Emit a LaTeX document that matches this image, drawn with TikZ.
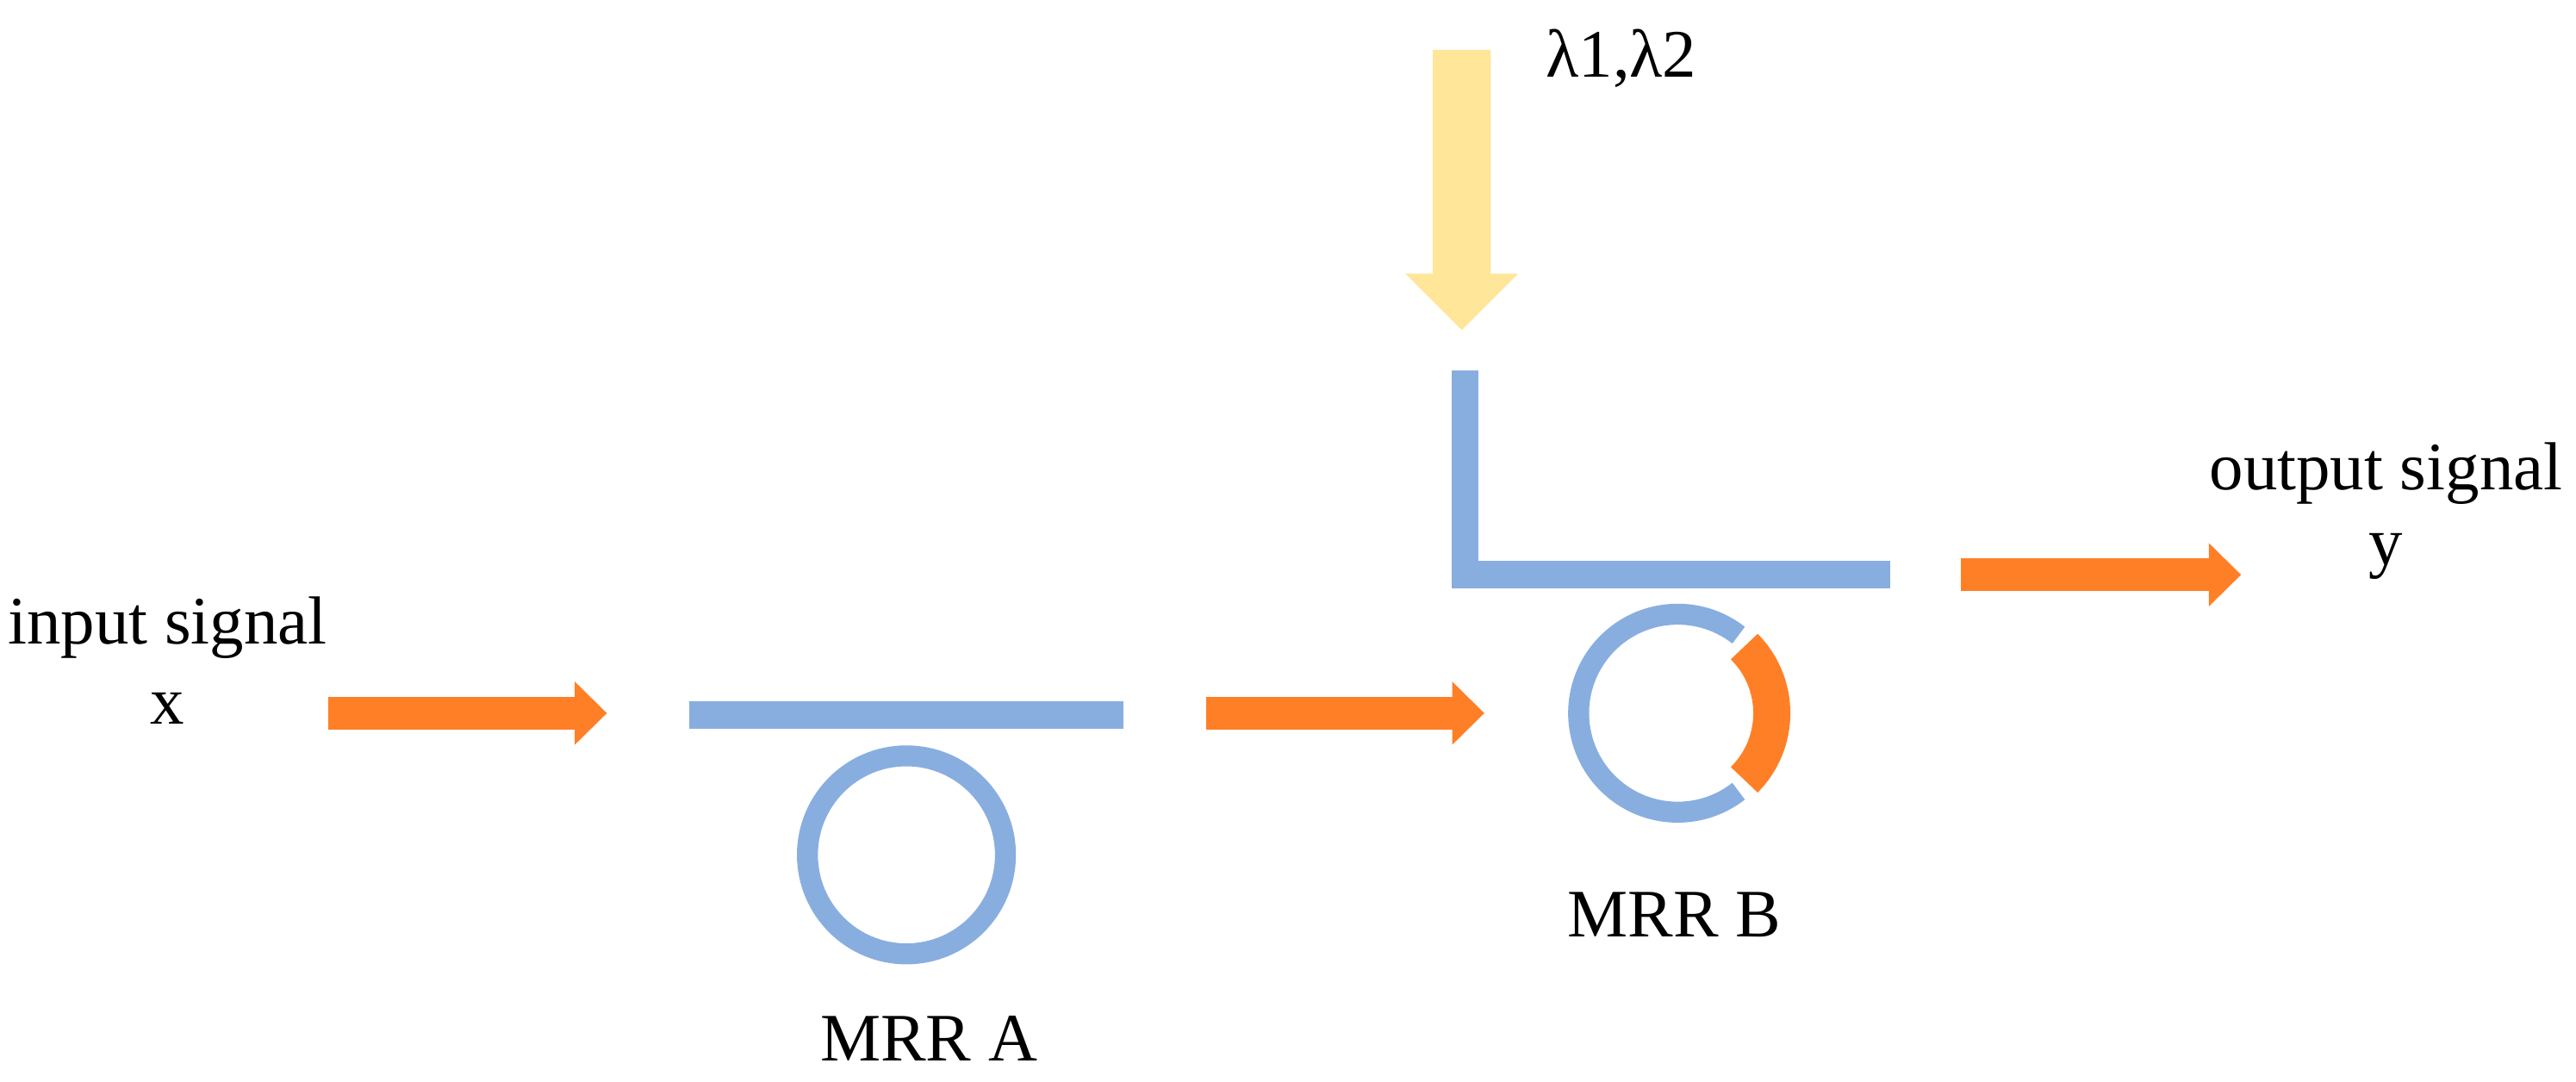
\documentclass[tikz,border=0pt]{standalone}
\usepackage{fontspec}
\setmainfont{Liberation Serif}
\usetikzlibrary{arrows.meta}
\definecolor{wg}{RGB}{136,174,224}
\definecolor{org}{RGB}{255,127,39}
\definecolor{yel}{RGB}{255,230,153}
\begin{document}
\begin{tikzpicture}[x=0.01cm,y=-0.01cm,
  sig/.style={draw=org,line width=0.2cm,-{Triangle[length=0.2cm,width=0.38cm]}},
  guide/.style={draw=wg,line width=0.17cm},
  ring/.style={draw=wg,line width=0.13cm},
  lab/.style={font=\fontsize{12}{14}\selectfont,anchor=base,inner sep=0}]
\useasboundingbox (0,0) rectangle (1600,672);
% coordinates
\coordinate (a1s) at (204,443); \coordinate (a1e) at (377,443);
\coordinate (a2s) at (749,443); \coordinate (a2e) at (922,443);
\coordinate (a3s) at (1218,357); \coordinate (a3e) at (1392,357);
\coordinate (wAs) at (428,444); \coordinate (wAe) at (698,444);
\coordinate (Ltop) at (910,230); \coordinate (Lcorner) at (910,357); \coordinate (Lend) at (1174,357);
\coordinate (rA) at (563,531); \coordinate (rB) at (1042,443);
% labels
\node[lab] (in) at (104,400) {input signal};
\node[lab] (inx) at (104,450) {x};
\node[lab] (out) at (1482,304) {output signal};
\node[lab] (outy) at (1482,351) {y};
\node[lab] (mA) at (577,659) {MRR A};
\node[lab] (mB) at (1040,582) {MRR B};
\node[lab] (lam) at (1007,48) {λ1,λ2};
% lambda arrow
\fill[yel] (890,31) -- (926,31) -- (926,170) -- (943,170) -- (908,205) -- (873,170) -- (890,170) -- cycle;
% waveguides
\draw[guide] ([xshift=-0.085cm]Lcorner) -- (Lend);
\draw[guide] (Ltop) -- ([yshift=0.085cm]Lcorner);
\draw[guide] (wAs) -- (wAe);
% rings
\draw[ring] (rA) circle (61.5);
\draw[ring] ([shift={(-52:61.5)}]rB) arc[start angle=-52,end angle=-308,radius=61.5];
\draw[draw=org,line width=0.23cm] ([shift={(-45:58.5)}]rB) arc[start angle=-45,end angle=45,radius=58.5];
% signals
\draw[sig] (a1s) -- (a1e);
\draw[sig] (a2s) -- (a2e);
\draw[sig] (a3s) -- (a3e);
\end{tikzpicture}
\end{document}
